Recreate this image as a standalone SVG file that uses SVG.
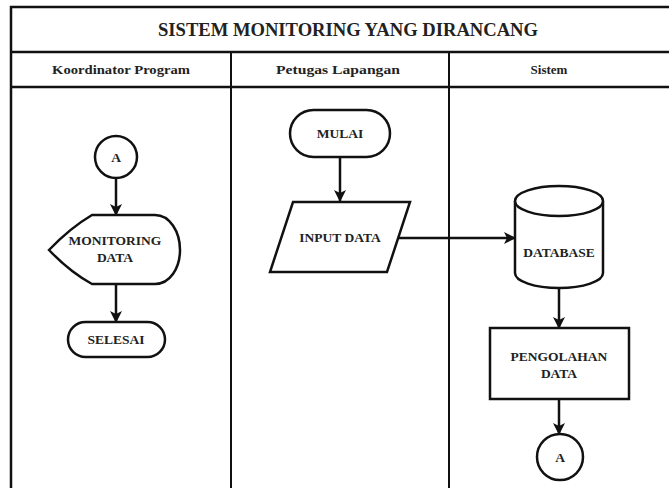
<svg xmlns="http://www.w3.org/2000/svg" width="669" height="488" viewBox="0 0 669 488">
<defs>
<style>
.frame{fill:none;stroke:#111;stroke-width:2.5}
.lane{fill:none;stroke:#111;stroke-width:2}
.shape{fill:#fff;stroke:#111;stroke-width:2.5}
.conn{fill:none;stroke:#111;stroke-width:2.5}
.t{font-family:"Liberation Serif","Times New Roman","DejaVu Serif",serif;font-weight:bold;fill:#222;text-anchor:middle}
.title{font-size:18px}
.hdr{font-size:13px}
.lbl{font-size:13.5px}
</style>
<marker id="arr" viewBox="0 0 12 12" refX="11" refY="6" markerWidth="12" markerHeight="12" markerUnits="userSpaceOnUse" orient="auto">
<path d="M0,0 L12,6 L0,12 L3,6 Z" fill="#111"/>
</marker>
</defs>
<rect width="669" height="488" fill="#fff"/>
<g id="swimlanes">
<path class="frame" d="M11,488 L11,7 L669,7"/>
<line class="frame" x1="11" y1="52" x2="669" y2="52"/>
<line class="frame" x1="11" y1="87" x2="669" y2="87"/>
<line class="lane" x1="231" y1="52" x2="231" y2="488"/>
<line class="lane" x1="449" y1="52" x2="449" y2="488"/>
<text class="t title" x="348" y="36" textLength="380" lengthAdjust="spacingAndGlyphs">SISTEM MONITORING YANG DIRANCANG</text>
<text class="t hdr" x="121" y="74" textLength="138" lengthAdjust="spacingAndGlyphs">Koordinator Program</text>
<text class="t hdr" x="338" y="74" textLength="124" lengthAdjust="spacingAndGlyphs">Petugas Lapangan</text>
<text class="t hdr" x="549" y="74">Sistem</text>
</g>
<g id="connectors">
<line class="conn" x1="116" y1="179" x2="116" y2="215" marker-end="url(#arr)"/>
<line class="conn" x1="116" y1="284" x2="116" y2="322" marker-end="url(#arr)"/>
<line class="conn" x1="340" y1="157" x2="340" y2="201" marker-end="url(#arr)"/>
<line class="conn" x1="399" y1="238" x2="515" y2="238" marker-end="url(#arr)"/>
<line class="conn" x1="559" y1="288" x2="559" y2="328" marker-end="url(#arr)"/>
<line class="conn" x1="559" y1="399" x2="559" y2="434" marker-end="url(#arr)"/>
</g>
<g id="node-a-left">
<circle class="shape" cx="116" cy="157" r="21"/>
<text class="t lbl" x="116" y="162">A</text>
</g>
<g id="node-monitoring">
<path class="shape" d="M49,250 Q70,228 92,215 L155,215 C170,215 180,232 180,250 C180,268 170,284 155,284 L92,284 Q70,272 49,250 Z"/>
<text class="t lbl" x="115" y="245">MONITORING</text>
<text class="t lbl" x="115" y="262">DATA</text>
</g>
<g id="node-selesai">
<rect class="shape" x="68" y="322" width="97" height="35" rx="17.5"/>
<text class="t lbl" x="116" y="344">SELESAI</text>
</g>
<g id="node-mulai">
<rect class="shape" x="290" y="110" width="100" height="47" rx="23.5"/>
<text class="t lbl" x="340" y="138">MULAI</text>
</g>
<g id="node-input">
<polygon class="shape" points="293,202 410,202 387,272 270,272"/>
<text class="t lbl" x="340" y="242">INPUT DATA</text>
</g>
<g id="node-database">
<path class="shape" d="M515,201 A44,15 0 0 1 603,201 L603,273 A44,15 0 0 1 515,273 Z"/>
<path class="shape" d="M515,201 A44,15 0 0 0 603,201" fill="none"/>
<text class="t lbl" x="559" y="257">DATABASE</text>
</g>
<g id="node-pengolahan">
<rect class="shape" x="490" y="328" width="139" height="71"/>
<text class="t lbl" x="559" y="361">PENGOLAHAN</text>
<text class="t lbl" x="559" y="378">DATA</text>
</g>
<g id="node-a-right">
<circle class="shape" cx="560" cy="457" r="23"/>
<text class="t lbl" x="560" y="462">A</text>
</g>
</svg>
